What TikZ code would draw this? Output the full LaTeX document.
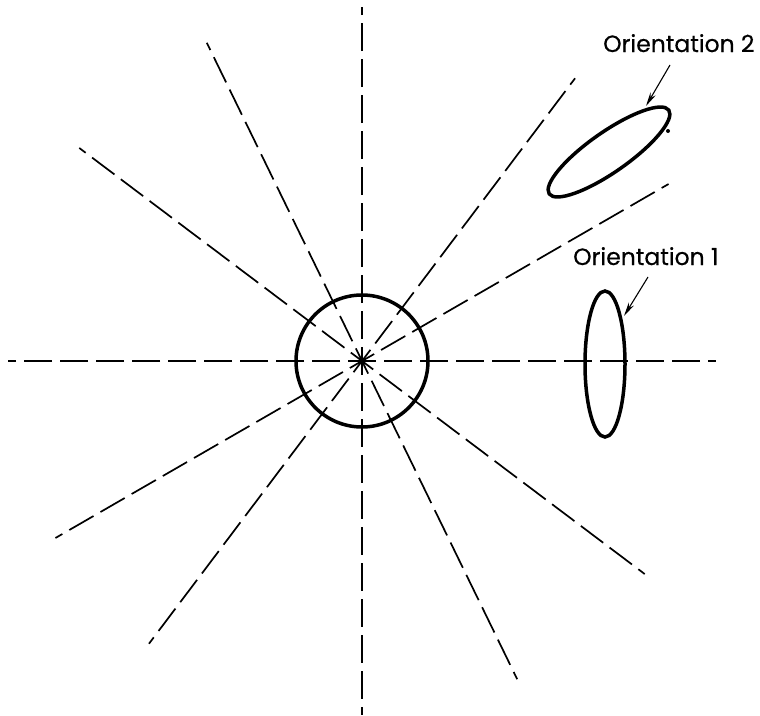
\documentclass[tikz,border=0pt]{standalone}
\usepackage{fontspec}
\setmainfont{Poppins}[FakeBold=0.4,AutoFakeBold=0.4]
\usetikzlibrary{arrows.meta}
\begin{document}
\begin{tikzpicture}[x=1pt,y=-1pt,
  ray/.style={line width=1.7pt, dash pattern=on 28pt off 8pt, dash phase=14pt},
  outline/.style={line width=3.5pt},
  pointer/.style={line width=1.1pt,-{Stealth[length=14pt,width=6pt]}},
  lbl/.style={font=\fontsize{23.5}{28}\selectfont\bfseries, inner sep=0pt, anchor=base west}]
\useasboundingbox (0,0) rectangle (760,715);
\coordinate (c) at (362,361);
\foreach \a in {0,30,53,90,116,143,180,210,233,270,296,323}
  \draw[ray] (c) -- ++({-\a}:354);
\draw[outline] (c) circle[radius=66];
% orientation 1
\coordinate (e1) at (605,364);
\draw[outline] (e1) ellipse[x radius=20, y radius=73];
% orientation 2
\coordinate (e2) at (609,152);
\draw[outline, rotate around={35:(e2)}] (e2) ellipse[x radius=73, y radius=20];
\fill (668,131) circle[radius=2];
\node[lbl] (l1) at (573,265) {Orientation 1};
\node[lbl] (l2) at (603,52) {Orientation 2};
\coordinate (a1s) at (648,277);
\coordinate (a1e) at (624,316);
\coordinate (a2s) at (670,65);
\coordinate (a2e) at (646,106);
\draw[pointer] (a1s) -- (a1e);
\draw[pointer] (a2s) -- (a2e);
\end{tikzpicture}
\end{document}
